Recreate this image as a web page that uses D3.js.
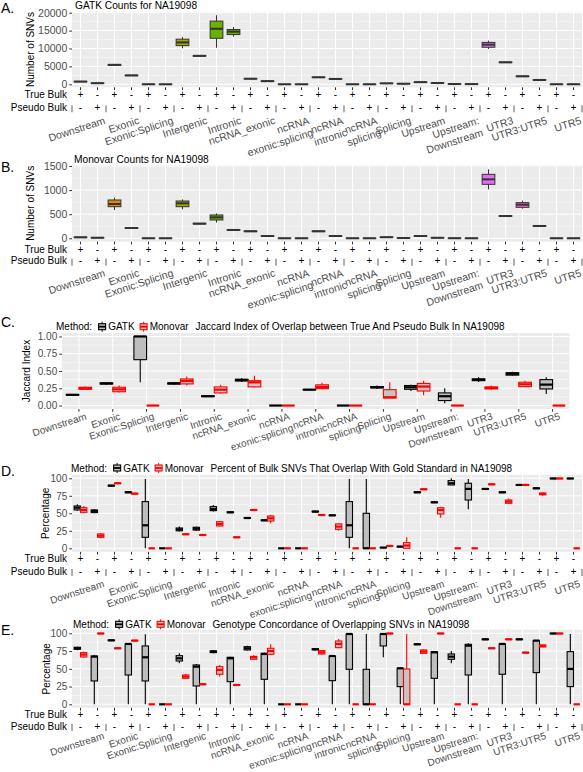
<!DOCTYPE html>
<html><head><meta charset="utf-8">
<script src="https://cdn.jsdelivr.net/npm/d3@7"></script>
<style>
body{margin:0;background:#fff}
svg{display:block}
text{font-family:"Liberation Sans",Arial,Helvetica,sans-serif}
</style>
</head><body>
<svg id="chart" width="583" height="772"></svg>
<script>
// ---------------- DATA ----------------
const groups = ["Downstream","Exonic","Exonic:Splicing","Intergenic","Intronic","ncRNA_exonic",
  "ncRNA\nexonic:splicing","ncRNA\nintronic","ncRNA\nsplicing","Splicing","Upstream",
  "Upstream:\nDownstream","UTR3","UTR3:UTR5","UTR5"];
const trueBulkSigns = ["+","-"];
const pseudoBulkSigns = ["-","+"];
const methods = ["GATK","Monovar"];
const groupColors = ["#F8766D","#E58700","#C99800","#A3A500","#6BB100","#00BA38","#00BF7D","#00C0AF",
  "#00BCD8","#00B0F6","#619CFF","#B983FF","#E76BF3","#FD61D1","#FF67A4"];

// box stats: [lower whisker, q1, median, q3, upper whisker]
// Panel A: GATK counts (True Bulk +) and (Pseudo Bulk +)
const gatkCountsTrue = [
  [650,700,760,820,880],[5150,5300,5420,5550,5700],[0,0,10,20,40],[10050,10800,11700,12600,13200],
  [10200,12850,15500,17650,19300],[1450,1500,1560,1620,1680],[0,0,5,10,20],[1850,1900,1950,2010,2060],
  [0,0,5,10,20],[180,220,260,300,330],[520,560,600,650,690],[40,60,80,100,120],
  [9870,10350,11080,11700,12200],[2100,2160,2230,2300,2360],[0,5,15,25,40]];
const gatkCountsPseudo = [
  [230,270,310,350,390],[2350,2420,2480,2540,2600],[0,0,5,10,20],[7750,7850,7950,8050,8150],
  [13300,13900,14700,15300,16000],[800,840,880,930,970],[0,0,5,10,20],[1400,1450,1500,1560,1610],
  [0,0,5,10,20],[100,130,160,190,220],[280,320,350,390,420],[20,40,60,80,100],
  [6000,6070,6140,6210,6280],[1100,1160,1210,1270,1320],[0,0,10,20,30]];
// Panel B: Monovar counts
const monovarCountsTrue = [
  [10,15,20,25,30],[587,656,712,795,843],[0,0,1,2,3],[601,656,726,774,808],
  [325,380,435,484,518],[135,140,145,152,158],[0,0,1,2,3],[135,140,145,152,158],
  [0,0,1,2,3],[15,18,22,26,30],[40,44,48,52,56],[0,0,2,3,5],
  [1016,1120,1223,1327,1431],[615,643,698,740,781],[0,0,1,2,3]];
const monovarCountsPseudo = [
  [5,8,12,15,18],[200,207,214,221,228],[0,0,1,2,3],[290,297,304,311,318],
  [160,167,173,180,186],[40,44,48,52,56],[0,0,1,2,3],[40,44,48,52,56],
  [0,0,1,2,3],[2,4,6,8,10],[5,8,11,14,17],[0,0,1,2,3],
  [450,457,463,470,476],[245,250,256,262,267],[0,0,1,2,3]];
// Panel C: Jaccard index
const jaccardGATK = [
  [0.15,0.152,0.155,0.16,0.165],[0.30,0.312,0.32,0.328,0.335],[0.337,0.664,1.0,1.0,1.0],
  [0.30,0.312,0.32,0.328,0.34],[0.125,0.13,0.135,0.14,0.145],[0.34,0.355,0.37,0.38,0.40],
  [0,0,0,0,0],[0.225,0.228,0.23,0.232,0.235],[0,0,0,0,0],[0.24,0.255,0.265,0.275,0.29],
  [0.21,0.235,0.265,0.29,0.30],[0.034,0.072,0.135,0.183,0.25],[0.34,0.36,0.375,0.385,0.41],
  [0.43,0.44,0.46,0.475,0.49],[0.168,0.24,0.303,0.375,0.41]];
const jaccardMonovar = [
  [0.226,0.235,0.25,0.265,0.275],[0.19,0.20,0.235,0.265,0.29],[0,0,0,0,0],
  [0.29,0.313,0.356,0.385,0.42],[0.17,0.183,0.23,0.27,0.30],[0.26,0.27,0.336,0.36,0.43],
  [0,0,0,0,0],[0.235,0.245,0.27,0.30,0.33],[0,0,0,0,0],[0.11,0.11,0.12,0.23,0.337],
  [0.15,0.21,0.275,0.32,0.36],[0,0,0,0,0],[0.23,0.24,0.255,0.27,0.29],
  [0.265,0.274,0.308,0.337,0.36],[0,0,0,0,0]];
// Panel D: percent overlapping gold standard (30 positions: each group True+, Pseudo+)
const goldGATK = [
  [53.8,54.8,58,60.5,62.9],[50,51,53.3,54.8,56],[88.5,89,89.5,90,90.5],[79,79.5,80,80.5,81],
  [0,15.7,32.9,66.7,99],[0,0,0,0,0],[24,25,27,29,31],[25,26,28,30,31],
  [52.4,53.8,56.2,59.5,61.9],[50.5,51,51.4,52,52.5],[42.5,43,43.3,43.8,44.3],[39,39.5,40,40.5,41],
  [0,0,0,0,0],[0,0,0,0,0],[51.5,52,52.4,53,53.5],[46.3,46.7,47.1,47.5,48],
  [0,15.7,32.9,66.7,99],[0,0,0,50,99],[0.5,0.8,1,1.2,1.5],[1.5,2,2.4,2.8,3.3],
  [79,79.5,80,80.5,81],[64.8,65.2,65.7,66.2,66.7],[90.5,90.5,92.9,96.7,100],[55.7,69,84.8,92.9,99],
  [84,84.4,84.8,85.3,85.7],[79,79.5,80,80.5,81],[89.7,90.1,90.5,91,91.4],[84.8,85.2,85.7,86.2,86.6],
  [99.2,99.5,99.7,100,100],[99.2,99.5,99.7,100,100]];
const goldMonovar = [
  [50,51.4,54.8,58,60.5],[14.3,15.7,18,20.5,21.9],[92.2,92.5,92.9,93.3,93.6],[77.3,77.7,78.1,78.5,78.9],
  [0,0,0,0,0],[0,0,0,0,0],[19.3,19.7,20,20.4,20.8],[18.3,18.7,19,19.4,19.8],
  [31,31.9,34.8,38,39],[15,15.4,15.7,16.1,16.5],[54,54.4,54.8,55.2,55.6],[35.7,39,42.9,46.2,47.6],
  [0,0,0,0,0],[0,0,0,0,0],[46.8,47.2,47.6,48,48.4],[25.2,27.1,31,34.8,35.7],
  [0,0,0,0,0],[0,0,0,0,0],[2.5,2.9,3.3,3.7,4.1],[0,0,4,8.1,15.7],
  [83.5,83.9,84.3,84.7,85.1],[43.8,49,54.8,58,59.5],[0,0,0,0,0],[0,0,0,0,0],
  [90.6,91,91.4,91.8,92.2],[63.4,64.3,66.7,69,71],[89.7,90.1,90.5,91,91.4],[75,76.5,77.6,79,80],
  [99.2,99.5,99.7,100,100],[0,0,0,0,0]];
// Panel E: genotype concordance
const concordGATK = [
  [76,77.5,79,80.3,81],[0,32.9,67.1,68,69.5],[89.3,89.7,90.1,90.5,90.9],[0,41.3,85,85,86],
  [0,32.9,66.2,82.2,98.6],[0,0,0,0,0],[57.7,61,64.8,68.5,71.8],[0,25.8,53,55.4,56.8],
  [72,72.8,74.2,75.2,76],[0,31.9,64.8,66.2,67.1],[75.6,76.5,78.9,81.2,82.6],[0,35.2,70.9,71.8,72.8],
  [0,0,0,0,0],[0,0,0,0,0],[75.6,76.8,77.5,78.2,79],[0,33.3,68,68,69.5],
  [0,49.3,99,99,100],[0,0,0,49.3,99],[66.2,82.2,99,99,100],[0,24.9,50.7,50.7,51.6],
  [83.7,84.1,84.5,84.9,85.3],[0,36.6,73.2,74.2,75.1],[57.7,63.4,67.1,70.9,75.1],[0,41.3,82.6,84.5,85.9],
  [90.7,91.1,91.5,91.9,92.3],[0,42.3,85,85,86],[90.7,91.1,91.5,91.9,92.3],[0,44.6,89.7,89.7,90.6],
  [99.2,99.5,99.7,100,100],[0,24.9,49.8,74.2,99]];
const concordMonovar = [
  [65.7,66.7,70,72.8,74.2],[99.2,99.5,99.7,100,100],[78.1,78.5,78.9,79.3,79.7],[88.9,89.3,89.7,90.1,90.5],
  [0,0,0,0,0],[0,0,0,0,0],[35.7,36.6,39,41.3,43],[27.4,27.8,28.2,28.6,29],
  [39,42.3,48.4,53,55.4],[26.4,26.8,27.2,27.6,28],[62.7,63.4,66.2,67.5,69],[69.5,70.4,75.1,78.9,84.5],
  [0,0,0,0,0],[0,0,0,0,0],[69.5,70.9,73.2,75.6,76.5],[78.9,79.8,85,89.2,92],
  [0,0,0,0,0],[0,0,0,0,0],[99.2,99.5,99.7,100,100],[0,0,0,49.8,99],
  [70.9,71.8,74.2,76.5,77.5],[99.2,99.5,99.7,100,100],[0,0,0,0,0],[0,0,0,0,0],
  [78.1,78.5,78.9,79.3,79.7],[90.7,91.1,91.5,91.9,92.3],[72,72.4,72.8,73.2,73.6],[80.3,80.8,82.2,83.6,84],
  [99.2,99.5,99.7,100,100],[0,0,0,0,0]];

const countTicks = [0,5000,10000,15000,20000];
const monoTicks = [0,500,1000,1500];
const jaccardTicks = [0,0.25,0.5,0.75,1];
const pctTicks = [0,25,50,75,100];

// ---------------- DRAWING ----------------
const svg = d3.select("#chart");
const TICK = "#4D4D4D", DARK = "#333333";
const FONT = '"Liberation Sans",Arial,sans-serif';
const LABEL_ANGLE = -18;
const posKeys = groups.flatMap((g,i)=>[i+"T", i+"P"]);

function frame(o){
  const y = d3.scaleLinear().domain(o.yDomain).range([o.bottom,o.top]);
  const x = d3.scaleBand().domain(o.xKeys).range([o.left,o.right]).padding(0);
  const g = svg.append("g");
  g.append("rect").attr("x",o.left).attr("y",o.top).attr("width",o.right-o.left)
    .attr("height",o.bottom-o.top).attr("fill","#EBEBEB");
  const minor = d3.pairs(o.ticks).map(p=>(p[0]+p[1])/2);
  g.selectAll(null).data(minor).join("line").attr("x1",o.left).attr("x2",o.right)
    .attr("y1",d=>y(d)).attr("y2",d=>y(d)).attr("stroke","#fff").attr("stroke-width",0.5);
  g.selectAll(null).data(o.ticks).join("line").attr("x1",o.left).attr("x2",o.right)
    .attr("y1",d=>y(d)).attr("y2",d=>y(d)).attr("stroke","#fff").attr("stroke-width",1);
  g.selectAll(null).data(o.xKeys).join("line").attr("x1",d=>x(d)+x.bandwidth()/2).attr("x2",d=>x(d)+x.bandwidth()/2)
    .attr("y1",o.top).attr("y2",o.bottom).attr("stroke","#fff").attr("stroke-width",1);
  const ay = g.append("g").attr("transform",`translate(${o.left},0)`)
    .call(d3.axisLeft(y).tickValues(o.ticks).tickFormat(o.fmt).tickSize(2.75).tickPadding(2));
  ay.select(".domain").remove();
  ay.selectAll("line").attr("stroke",DARK);
  ay.selectAll("text").attr("fill",TICK).style("font-size",o.tickSize+"px").style("font-family",FONT);
  const ax = g.append("g").attr("transform",`translate(0,${o.bottom})`)
    .call(d3.axisBottom(x).tickSize(2.75).tickFormat(""));
  ax.select(".domain").remove();
  ax.selectAll("line").attr("stroke",DARK);
  g.append("text").attr("transform",`translate(${o.titleX},${(o.top+o.bottom)/2}) rotate(-90)`)
    .attr("text-anchor","middle").style("font-size","10px").attr("fill","#000").text(o.yTitle);
  return {x,y,g};
}

function box(g, cx, w, s, y, stroke, fill, lw, mw){
  g.append("line").attr("x1",cx).attr("x2",cx).attr("y1",y(s[4])).attr("y2",y(s[3]))
    .attr("stroke",stroke).attr("stroke-width",lw);
  g.append("line").attr("x1",cx).attr("x2",cx).attr("y1",y(s[1])).attr("y2",y(s[0]))
    .attr("stroke",stroke).attr("stroke-width",lw);
  g.append("rect").attr("x",cx-w/2).attr("y",y(s[3])).attr("width",w)
    .attr("height",Math.max(0,y(s[1])-y(s[3]))).attr("fill",fill).attr("stroke",stroke).attr("stroke-width",lw);
  g.append("line").attr("x1",cx-w/2).attr("x2",cx+w/2).attr("y1",y(s[2])).attr("y2",y(s[2]))
    .attr("stroke",stroke).attr("stroke-width",mw);
}

function bulkRows(x, rowT, rowP){
  const g = svg.append("g").style("font-size","10px");
  [["True Bulk",rowT],["Pseudo Bulk",rowP]].forEach(([t,yy])=>
    g.append("text").attr("x",67).attr("y",yy).attr("dy","0.35em").attr("text-anchor","end").text(t));
  posKeys.forEach((k,i)=>{
    const cx = x(k)+x.bandwidth()/2;
    g.append("text").attr("x",cx).attr("y",rowT).attr("dy","0.35em").attr("text-anchor","middle").text(trueBulkSigns[i%2]);
    g.append("text").attr("x",cx).attr("y",rowP).attr("dy","0.35em").attr("text-anchor","middle").text(pseudoBulkSigns[i%2]);
  });
  const seps = d3.range(groups.length+1).map(k=>x.range()[0]+k*2*x.bandwidth());
  g.selectAll(null).data(seps).join("line").attr("x1",d=>d).attr("x2",d=>d)
    .attr("y1",rowP-2).attr("y2",rowP+5).attr("stroke",DARK).attr("stroke-width",0.8);
}

function groupLabels(anchors, top, size, lh){
  const g = svg.append("g").style("font-size",size+"px").attr("fill",TICK);
  groups.forEach((name,i)=>{
    const t = g.append("text").attr("transform",`translate(${anchors[i]},${top}) rotate(${LABEL_ANGLE})`).attr("text-anchor","end");
    name.split("\n").forEach((ln,j)=>t.append("tspan").attr("x",0).attr("dy",j===0?"0.75em":(lh||1.2)+"em").text(ln));
  });
}

function titleText(x,y,t,size){
  svg.append("text").attr("x",x).attr("y",y).style("font-size",size+"px").attr("fill","#000").text(t);
}

function legend(x0, yc, title){
  const g = svg.append("g").style("font-size","10px");
  let cx = x0;
  const m = g.append("text").attr("x",cx).attr("y",yc).attr("dy","0.35em").text("Method:");
  cx += m.node().getComputedTextLength() + 7;
  methods.forEach((mt,i)=>{
    const col = i===0 ? "#000" : "#FF0000";
    const kx = cx + 3;
    g.append("line").attr("x1",kx).attr("x2",kx).attr("y1",yc-5).attr("y2",yc+5).attr("stroke",col).attr("stroke-width",1);
    g.append("rect").attr("x",kx-3.5).attr("y",yc-3).attr("width",7).attr("height",6).attr("fill","#BEBEBE").attr("stroke",col).attr("stroke-width",1.1);
    g.append("line").attr("x1",kx-3.5).attr("x2",kx+3.5).attr("y1",yc).attr("y2",yc).attr("stroke",col).attr("stroke-width",1.8);
    const t = g.append("text").attr("x",cx+9).attr("y",yc).attr("dy","0.35em").text(mt);
    cx += 9 + t.node().getComputedTextLength() + 6;
  });
  g.append("text").attr("x",cx+1).attr("y",yc).attr("dy","0.35em").text(title);
}

function panelLetter(t,y){
  svg.append("text").attr("x",1).attr("y",y).style("font-size","14px").attr("fill","#000").text(t);
}

// ---- Panel A ----
{
  const o = {left:72,right:582,top:11.7,bottom:87.3,yDomain:[-838,20279],ticks:countTicks,fmt:d3.format("d"),
    xKeys:posKeys,titleX:33.5,yTitle:"Number of SNVs",tickSize:10.5};
  const {x,y,g} = frame(o);
  groups.forEach((gn,i)=>{
    [gatkCountsTrue[i],gatkCountsPseudo[i]].forEach((s,j)=>{
      const k = posKeys[i*2+j];
      box(g, x(k)+x.bandwidth()/2, x.bandwidth()*0.75, s, y, DARK, groupColors[i], 1, 2);
    });
  });
  bulkRows(x, 94.3, 107.3);
  groupLabels(groups.map((gn,i)=>x(i+"P")+x.bandwidth()/2+6), 116, 10.5);
  panelLetter("A.",13.3);
  titleText(75,8.5,"GATK Counts for NA19098",10.2);
}
// ---- Panel B ----
{
  const o = {left:72,right:582,top:165,bottom:241.7,yDomain:[-70.5,1521],ticks:monoTicks,fmt:d3.format("d"),
    xKeys:posKeys,titleX:33.5,yTitle:"Number of SNVs",tickSize:10.5};
  const {x,y,g} = frame(o);
  groups.forEach((gn,i)=>{
    [monovarCountsTrue[i],monovarCountsPseudo[i]].forEach((s,j)=>{
      const k = posKeys[i*2+j];
      box(g, x(k)+x.bandwidth()/2, x.bandwidth()*0.75, s, y, DARK, groupColors[i], 1, 2);
    });
  });
  bulkRows(x, 249, 260.7);
  groupLabels(groups.map((gn,i)=>x(i+"P")+x.bandwidth()/2+6), 268.5, 10.5);
  panelLetter("B.",171.7);
  titleText(74,163.3,"Monovar Counts for NA19098",10.2);
}
// ---- Panel C ----
{
  const gKeys = groups.map((g,i)=>"g"+i);
  const o = {left:62,right:569.5,top:333,bottom:409,yDomain:[-0.05,1.05],ticks:jaccardTicks,fmt:d3.format(".2f"),
    xKeys:gKeys,titleX:30,yTitle:"Jaccard Index",tickSize:10};
  const {x,y,g} = frame(o);
  const bw = x.bandwidth();
  groups.forEach((gn,i)=>{
    const c = x(gKeys[i])+bw/2;
    box(g, c-bw*0.1875, bw*0.375, jaccardGATK[i], y, "#000", "#BEBEBE", 1.1, 2.2);
    box(g, c+bw*0.1875, bw*0.375, jaccardMonovar[i], y, "#FF0000", "#C4C4C4", 1.1, 2.2);
  });
  groupLabels(groups.map((gn,i)=>x(gKeys[i])+bw/2+6), 412, 10);
  panelLetter("C.",326.7);
  legend(56, 326.7, "Jaccard Index of Overlap between True And Pseudo Bulk In NA19098");
}
// ---- Panel D ----
{
  const o = {left:72,right:582,top:474.8,bottom:551.8,yDomain:[-5,105],ticks:pctTicks,fmt:d3.format("d"),
    xKeys:posKeys,titleX:49,yTitle:"Percentage",tickSize:10};
  const {x,y,g} = frame(o);
  const bw = x.bandwidth();
  posKeys.forEach((k,i)=>{
    const c = x(k)+bw/2;
    box(g, c-bw*0.1875, bw*0.375, goldGATK[i], y, "#000", "#BEBEBE", 1.1, 2.2);
    box(g, c+bw*0.1875, bw*0.375, goldMonovar[i], y, "#FF0000", "#C4C4C4", 1.1, 2.2);
  });
  bulkRows(x, 558.3, 571);
  groupLabels(groups.map((gn,i)=>x(i+"P")+bw/2+5), 579.5, 10);
  panelLetter("D.",476);
  legend(71, 468, "Percent of Bulk SNVs That Overlap With Gold Standard in NA19098");
}
// ---- Panel E ----
{
  const o = {left:72,right:582,top:629.75,bottom:707.85,yDomain:[-5,105],ticks:pctTicks,fmt:d3.format("d"),
    xKeys:posKeys,titleX:49.5,yTitle:"Percentage",tickSize:10};
  const {x,y,g} = frame(o);
  const bw = x.bandwidth();
  posKeys.forEach((k,i)=>{
    const c = x(k)+bw/2;
    box(g, c-bw*0.1875, bw*0.375, concordGATK[i], y, "#000", "#BEBEBE", 1.1, 2.2);
    box(g, c+bw*0.1875, bw*0.375, concordMonovar[i], y, "#FF0000", "#C4C4C4", 1.1, 2.2);
  });
  bulkRows(x, 714.3, 726);
  groupLabels(groups.map((gn,i)=>x(i+"P")+bw/2+5), 731.5, 10, 1.1);
  panelLetter("E.",635);
  legend(73, 624.3, "Genotype Concordance of Overlapping SNVs in NA19098");
}
</script>
</body></html>
